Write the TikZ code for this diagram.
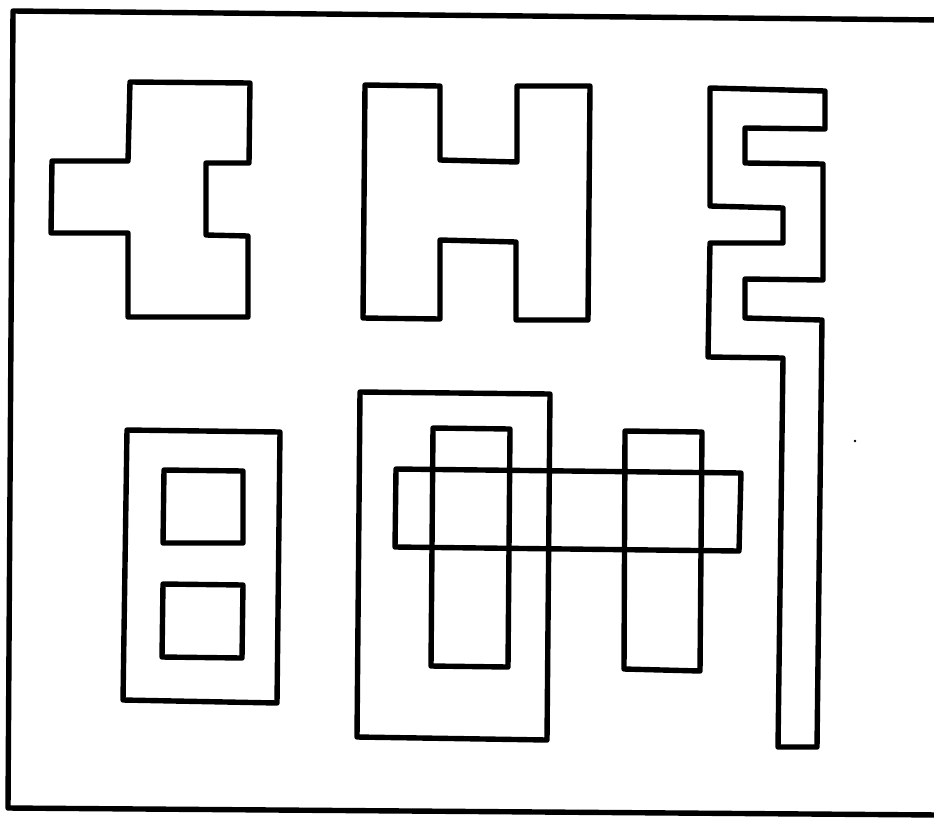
\documentclass[tikz,border=0pt]{standalone}
\begin{document}
\begin{tikzpicture}[x=1pt,y=-1pt,
  outline/.style={draw=black,line width=5.4pt,line join=round,line cap=round}]
\useasboundingbox[fill=white] (0,0) rectangle (934,820);
% outer frame (right edge lies beyond the picture)
\draw[outline] (940,20) -- (13,11) -- (8,808) -- (940,815);
% cross shape
\draw[outline] (130,82) -- (250,83) -- (249,163) -- (206,163) -- (206,235) -- (248,236)
  -- (248,317) -- (128,317) -- (128,233) -- (51,233) -- (52,161) -- (128,161) -- cycle;
% H shape
\draw[outline] (365,85) -- (440,86) -- (440,160) -- (517,162) -- (517,86) -- (590,86)
  -- (588,320) -- (516,320) -- (516,242) -- (440,240) -- (440,319) -- (363,318) -- cycle;
% serpentine
\draw[outline] (710,88) -- (825,91) -- (825,129) -- (745,128) -- (745,163) -- (823,164)
  -- (823,280) -- (745,279) -- (745,318) -- (822,320) -- (817,747) -- (778,747)
  -- (783,358) -- (708,357) -- (710,243) -- (783,243) -- (783,208) -- (710,206) -- cycle;
% left rectangle with two squares
\draw[outline] (127,430) -- (280,432) -- (277,703) -- (123,700) -- cycle;
\draw[outline] (164,470) -- (243,471) -- (243,543) -- (163,543) -- cycle;
\draw[outline] (163,584) -- (243,585) -- (242,658) -- (162,657) -- cycle;
% right group of rectangles
\draw[outline] (360,392) -- (550,394) -- (547,740) -- (357,737) -- cycle;
\draw[outline] (433,428) -- (510,429) -- (508,667) -- (431,666) -- cycle;
\draw[outline] (625,431) -- (702,432) -- (700,671) -- (624,669) -- cycle;
\draw[outline] (396,469) -- (741,473) -- (739,551) -- (395,547) -- cycle;
% speck
\fill (855,441) circle (1.3);
\end{tikzpicture}
\end{document}
